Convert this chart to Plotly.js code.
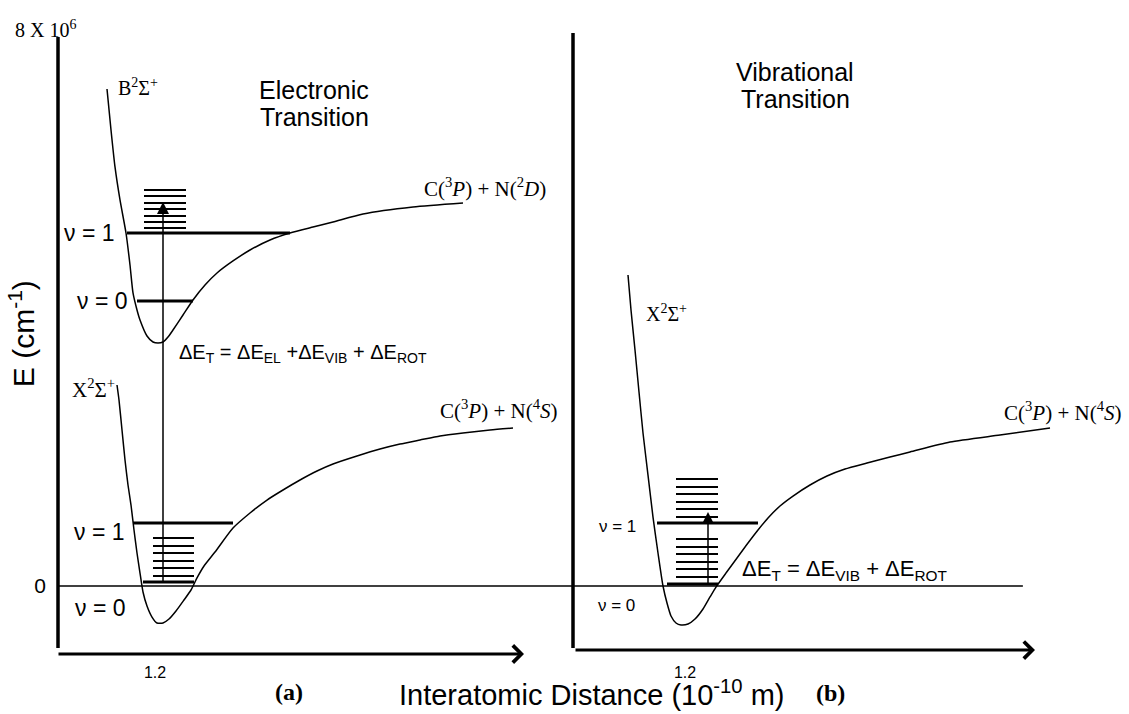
<!DOCTYPE html>
<html>
<head>
<meta charset="utf-8">
<script src="https://cdn.plot.ly/plotly-3.0.1.min.js"></script>
<style>html,body{margin:0;padding:0;background:#fff;}#chart{width:1129px;height:714px;}</style>
</head>
<body>
<div id="chart"></div>
<script>
// ---- Data (distance in 1e-10 m, energy in 1e6 cm^-1) ----
// Panel (a): B2Sigma+ potential curve
const bDistA = [1.008,1.024,1.04,1.06,1.084,1.1,1.112,1.128,1.14,1.168,1.192,1.212,1.232,1.252,1.272,1.312,1.352,1.4,1.448,1.512,1.58,1.66,1.74,1.832,1.912,2.032,2.232,2.432];
const bEnergyA = [7.242,6.645,6.106,5.625,5.144,4.678,4.270,4.022,3.876,3.643,3.556,3.541,3.556,3.628,3.730,3.949,4.168,4.386,4.561,4.736,4.896,5.042,5.144,5.231,5.304,5.421,5.523,5.581];
// Panel (a): X2Sigma+ potential curve
const xDistA = [1.048,1.056,1.068,1.08,1.092,1.104,1.116,1.128,1.14,1.152,1.168,1.188,1.208,1.232,1.256,1.284,1.316,1.344,1.368,1.396,1.44,1.512,1.58,1.648,1.712,1.78,1.848,1.912,2.008,2.1,2.18,2.26,2.34,2.432,2.54,2.632];
const xEnergyA = [2.929,2.710,2.273,1.836,1.472,1.180,0.816,0.481,0.189,-0.087,-0.291,-0.452,-0.539,-0.539,-0.481,-0.364,-0.204,-0.058,0.117,0.291,0.495,0.845,1.064,1.253,1.399,1.545,1.676,1.778,1.894,1.996,2.069,2.128,2.186,2.230,2.273,2.302];
// Panel (b): X2Sigma+ potential curve
const xDistB = [0.972,0.984,1.0,1.016,1.032,1.052,1.072,1.092,1.112,1.128,1.144,1.164,1.184,1.212,1.24,1.272,1.3,1.324,1.364,1.408,1.452,1.492,1.532,1.58,1.632,1.7,1.768,1.84,1.928,2.02,2.1,2.26,2.46,2.66];
const xEnergyB = [4.532,4.022,3.439,2.827,2.230,1.617,1.005,0.481,0,-0.248,-0.437,-0.539,-0.568,-0.554,-0.481,-0.335,-0.160,-0.015,0.189,0.408,0.627,0.816,0.991,1.166,1.311,1.472,1.603,1.705,1.792,1.880,1.953,2.098,2.200,2.302];

// Vibrational levels (energy, left/right turning points)
const vibEnergyBA = [4.153, 5.144];
const vibLeftBA = [1.128, 1.088];
const vibRightBA = [1.352, 1.74];
const vibEnergyXA = [0.058, 0.918];
const vibLeftXA = [1.152, 1.112];
const vibRightXA = [1.356, 1.512];
const vibEnergyXB = [0.029, 0.918];
const vibLeftXB = [1.128, 1.088];
const vibRightXB = [1.332, 1.492];

// Rotational levels
const rotEnergyBA = [5.217,5.304,5.392,5.494,5.581,5.683,5.770];
const rotSpanBA = [1.156, 1.324];
const rotEnergyXA = [0.146,0.262,0.364,0.481,0.583,0.699];
const rotSpanXA = [1.192, 1.356];
const rotEnergyXB = [0.131,0.248,0.350,0.466,0.568,0.685,1.005,1.122,1.224,1.341,1.443,1.559];
const rotSpanXB = [1.164, 1.332];

// Transitions [distance, from energy, to energy]
const transA = [1.232, 0.058, 5.596];
const transB = [1.292, 0.029, 1.078];

const tickValsX = [1.2];
const tickTextX = ['1.2'];
const tickValsY = [0];
const tickTextY = ['0'];

// ---- Build ----
const SANS = 'Liberation Sans, Arial, sans-serif';
const SERIF = 'Liberation Serif, Times New Roman, serif';

function levelTrace(energies, lefts, rights, xa, w) {
  const xs = [], ys = [];
  energies.forEach((e, i) => {
    xs.push(lefts[i], rights[i], null);
    ys.push(e, e, null);
  });
  return {x: xs, y: ys, xaxis: xa, yaxis: 'y', mode: 'lines', line: {color: '#000', width: w}, hoverinfo: 'skip'};
}
function rotTrace(energies, span, xa) {
  return levelTrace(energies, energies.map(() => span[0]), energies.map(() => span[1]), xa, 2);
}
function curve(x, y, xa) {
  return {x: x, y: y, xaxis: xa, yaxis: 'y', mode: 'lines', line: {color: '#000', width: 1.5, shape: 'spline', smoothing: 0.6}, hoverinfo: 'skip'};
}

const traces = [
  curve(bDistA, bEnergyA, 'x'),
  curve(xDistA, xEnergyA, 'x'),
  curve(xDistB, xEnergyB, 'x2'),
  levelTrace(vibEnergyBA, vibLeftBA, vibRightBA, 'x', 3),
  levelTrace(vibEnergyXA, vibLeftXA, vibRightXA, 'x', 3),
  levelTrace(vibEnergyXB, vibLeftXB, vibRightXB, 'x2', 3),
  rotTrace(rotEnergyBA, rotSpanBA, 'x'),
  rotTrace(rotEnergyXA, rotSpanXA, 'x'),
  rotTrace(rotEnergyXB, rotSpanXB, 'x2')
];

function txt(text, xref, x, y, size, family, opts) {
  return Object.assign({text: text, xref: xref, yref: 'y', x: x, y: y, showarrow: false,
    font: {size: size, family: family, color: '#000'}, xanchor: 'center', yanchor: 'middle'}, opts || {});
}
function arrow(xref, x0, y0, x1, y1, head, width, size) {
  return {xref: xref, yref: 'y', axref: xref, ayref: 'y', x: x1, y: y1, ax: x0, ay: y0,
    text: '', showarrow: true, arrowhead: head, arrowwidth: width, arrowsize: size,
    arrowcolor: '#000', standoff: 0, startstandoff: 0, font: {size: 1}, borderpad: 0};
}

const annotations = [
  txt('8 X 10<sup>6</sup>', 'paper', 0.0115, 8.12, 20, SERIF, {xanchor: 'left'}),
  txt('E (cm<sup>-1</sup>)', 'paper', 0.0195, 3.67, 30, SANS, {textangle: -90}),
  txt('B<sup>2</sup>Σ<sup>+</sup>', 'x', 1.13, 7.27, 20, SERIF),
  txt('Electronic', 'x', 1.836, 7.228, 25, SANS),
  txt('Transition', 'x', 1.836, 6.834, 25, SANS),
  txt('C(<sup>3</sup><i>P</i>) + N(<sup>2</sup><i>D</i>)', 'x', 2.52, 5.814, 21, SERIF),
  txt('ν = 1', 'x', 1.048, 5.144, 23, SANS, {xanchor: 'right'}),
  txt('ν = 0', 'x', 1.10, 4.153, 23, SANS, {xanchor: 'right'}),
  txt('ΔE<sub>T</sub> = ΔE<sub>EL</sub> +ΔE<sub>VIB</sub> + ΔE<sub>ROT</sub>', 'x', 1.288, 3.395, 20, SANS, {xanchor: 'left'}),
  txt('X<sup>2</sup>Σ<sup>+</sup>', 'x', 0.952, 2.885, 21, SERIF),
  txt('C(<sup>3</sup><i>P</i>) + N(<sup>4</sup><i>S</i>)', 'x', 2.332, 2.565, 21, SERIF, {xanchor: 'left'}),
  txt('ν = 1', 'x', 1.088, 0.787, 23, SANS, {xanchor: 'right'}),
  txt('ν = 0', 'x', 1.092, -0.321, 23, SANS, {xanchor: 'right'}),
  txt('<b>(a)</b>', 'x', 1.736, -1.545, 24, SERIF),
  txt('Interatomic Distance (10<sup>-10</sup> m)', 'paper', 0.524, -1.559, 29, SANS),
  txt('<b>(b)</b>', 'x2', 1.78, -1.559, 24, SERIF),
  txt('Vibrational', 'x2', 1.64, 7.49, 25, SANS),
  txt('Transition', 'x2', 1.64, 7.097, 25, SANS),
  txt('X<sup>2</sup>Σ<sup>+</sup>', 'x2', 1.124, 3.978, 20, SERIF),
  txt('ν = 1', 'x2', 1.012, 0.86, 17, SANS, {xanchor: 'right'}),
  txt('ν = 0', 'x2', 1.008, -0.277, 17, SANS, {xanchor: 'right'}),
  txt('ΔE<sub>T</sub> = ΔE<sub>VIB</sub> + ΔE<sub>ROT</sub>', 'x2', 1.42, 0.233, 22, SANS, {xanchor: 'left'}),
  txt('C(<sup>3</sup><i>P</i>) + N(<sup>4</sup><i>S</i>)', 'x2', 2.468, 2.536, 21, SERIF, {xanchor: 'left'}),
  arrow('x', transA[0], transA[1], transA[0], transA[2], 2, 1.5, 1.6),
  arrow('x2', transB[0], transB[1], transB[0], transB[2], 2, 1.5, 1.6),
  arrow('x', 0.812, -0.991, 2.676, -0.991, 4, 3, 1.1),
  arrow('x2', 0.76, -0.933, 2.60, -0.933, 4, 3, 1.1)
];

const shapes = [
  {type: 'line', xref: 'x', yref: 'y', x0: 0.812, x1: 0.812, y0: -0.903, y1: 8.0, line: {color: '#000', width: 3.5}},
  {type: 'line', xref: 'x2', yref: 'y', x0: 0.752, x1: 0.752, y0: -0.903, y1: 8.058, line: {color: '#000', width: 3.5}},
  {type: 'line', xref: 'paper', yref: 'y', x0: 0.0514, x1: 0.906, y0: 0, y1: 0, line: {color: '#000', width: 1.5}}
];

const axisCommon = {showgrid: false, zeroline: false, showline: false, ticks: '', fixedrange: true};

const layout = {
  width: 1129, height: 714,
  margin: {l: 0, r: 0, t: 0, b: 0, pad: 0},
  paper_bgcolor: '#fff', plot_bgcolor: 'rgba(0,0,0,0)',
  showlegend: false,
  xaxis: Object.assign({}, axisCommon, {domain: [0, 0.5], range: [0.58, 2.838], anchor: 'free', position: 0.0742,
    tickvals: tickValsX, ticktext: tickTextX, tickfont: {size: 16, family: SANS, color: '#000'}}),
  xaxis2: Object.assign({}, axisCommon, {domain: [0.5, 1], range: [0.718, 2.976], anchor: 'free', position: 0.0742,
    tickvals: tickValsX, ticktext: tickTextX, tickfont: {size: 16, family: SANS, color: '#000'}}),
  yaxis: Object.assign({}, axisCommon, {domain: [0, 1], range: [-1.865, 8.539], anchor: 'free', position: 0.0514,
    tickvals: tickValsY, ticktext: tickTextY, ticklabelstandoff: 12, tickfont: {size: 21, family: SANS, color: '#000'}}),
  annotations: annotations,
  shapes: shapes
};

Plotly.newPlot('chart', traces, layout, {staticPlot: true, displayModeBar: false});
</script>
</body>
</html>
